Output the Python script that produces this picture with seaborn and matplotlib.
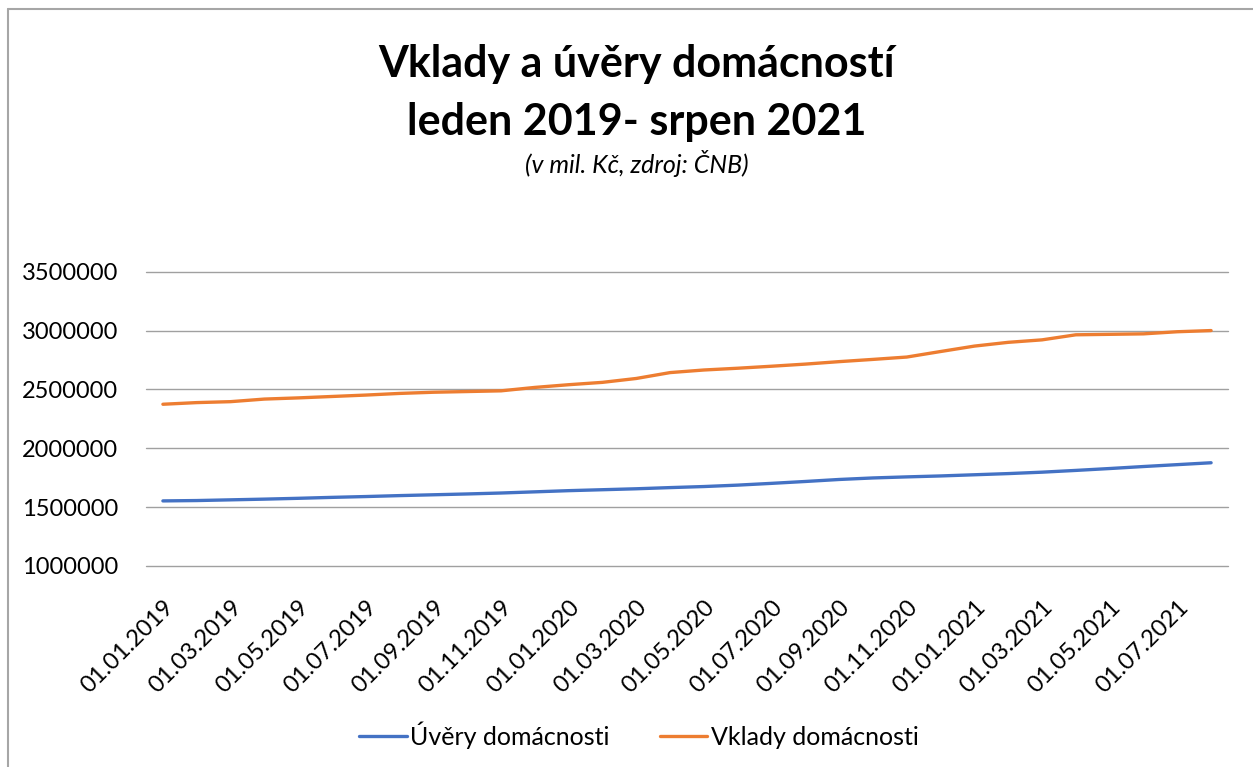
import pandas as pd
import matplotlib
matplotlib.use('Agg')
import matplotlib.pyplot as plt
import seaborn as sns
from matplotlib.lines import Line2D

# Data (v mil. Kč), monthly, leden 2019 - srpen 2021
dates = pd.date_range('2019-01-01', '2021-08-01', freq='MS')
uvery = [1553000, 1556000, 1562000, 1568000, 1575000, 1583000, 1590000, 1598000,
         1605000, 1612000, 1620000, 1630000, 1640000, 1648000, 1656000, 1666000,
         1675000, 1687000, 1702000, 1718000, 1735000, 1748000, 1757000, 1765000,
         1775000, 1785000, 1797000, 1812000, 1828000, 1845000, 1861000, 1877000]
vklady = [2374000, 2388000, 2396000, 2418000, 2428000, 2440000, 2452000, 2466000,
          2476000, 2482000, 2488000, 2517000, 2540000, 2560000, 2593000, 2643000,
          2665000, 2680000, 2697000, 2715000, 2736000, 2755000, 2775000, 2822000,
          2868000, 2900000, 2921000, 2964000, 2968000, 2972000, 2990000, 3000000]
y_ticks = [1000000, 1500000, 2000000, 2500000, 3000000, 3500000]

labels = [d.strftime('%d.%m.%Y') for d in dates]
df = pd.DataFrame({'idx': range(len(dates)), 'Úvěry domácnosti': uvery,
                   'Vklady domácnosti': vklady})
long = df.melt(id_vars='idx', var_name='serie', value_name='hodnota')

sns.set_style('white')
plt.rcParams['font.family'] = ['Lato', 'DejaVu Sans']
plt.rcParams['text.color'] = 'black'
plt.rcParams['xtick.color'] = 'black'
plt.rcParams['ytick.color'] = 'black'

fig = plt.figure(figsize=(12.53, 7.67), dpi=100)
ax = fig.add_axes([146 / 1253, 1 - 566 / 767, (1228 - 146) / 1253, (566 - 271.7) / 767])

barvy = {'Úvěry domácnosti': '#4472C4', 'Vklady domácnosti': '#ED7D31'}
sns.lineplot(data=long, x='idx', y='hodnota', hue='serie', palette=barvy,
             linewidth=2.4, ax=ax, legend=False)

ax.set_xlim(-0.5, len(dates) - 0.5)
ax.set_ylim(1000000, 3500000)
ax.set_yticks(y_ticks)
ax.set_yticklabels([str(v) for v in y_ticks])
ax.set_xticks(range(0, len(dates), 2))
ax.set_xticklabels(labels[::2], rotation=45, ha='right', va='top',
                   rotation_mode='anchor')
ax.tick_params(axis='x', length=0, pad=22, labelsize=17)
ax.tick_params(axis='y', length=0, pad=20, labelsize=17)
ax.yaxis.grid(True, color='#a0a0a0', linewidth=1)
for gl in ax.get_ygridlines():
    gl.set_clip_on(False)
for s in ax.spines.values():
    s.set_visible(False)
ax.set_xlabel('')
ax.set_ylabel('')

# titulek
fig.text(0.508, 1 - 77 / 767, 'Vklady a úvěry domácností', ha='center',
         va='baseline', fontsize=31, fontweight='bold')
fig.text(0.508, 1 - 135 / 767, 'leden 2019- srpen 2021', ha='center',
         va='baseline', fontsize=31, fontweight='bold')
fig.text(0.508, 1 - 173 / 767, '(v mil. Kč, zdroj: ČNB)', ha='center',
         va='baseline', fontsize=18, fontstyle='italic')

# legenda
handles = [Line2D([], [], color=barvy[k], linewidth=2.4) for k in barvy]
fig.legend(handles, list(barvy.keys()), loc='center', ncol=2,
           bbox_to_anchor=(0.51, 1 - 735 / 767), frameon=False, fontsize=18,
           handlelength=1.9, handletextpad=0.15, columnspacing=2.0)

# rámeček grafu
fig.add_artist(Line2D([8 / 1253, 8 / 1253], [0, 1 - 9 / 767], color='#a6a6a6',
                      linewidth=1.5, transform=fig.transFigure))
fig.add_artist(Line2D([8 / 1253, 1], [1 - 9 / 767, 1 - 9 / 767], color='#a6a6a6',
                      linewidth=1.5, transform=fig.transFigure))

fig.savefig('out.png', dpi=100)
